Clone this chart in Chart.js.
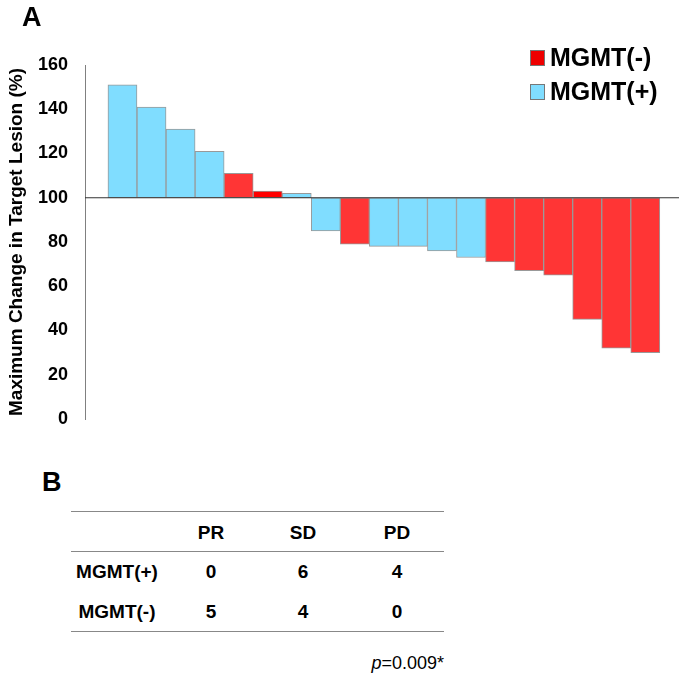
<!DOCTYPE html>
<html>
<head>
<meta charset="utf-8">
<script src="https://cdn.jsdelivr.net/npm/chart.js@4"></script>
<style>
  body { margin: 0; background: #fff; font-family: Arial, "Liberation Sans", sans-serif; }
  #wrap { position: relative; width: 685px; height: 680px; }
  #chartBox { position: absolute; left: 0; top: 0; width: 685px; height: 450px; }
  .lbl { position: absolute; font-weight: bold; color: #000; }
  .hl { position: absolute; left: 71px; width: 373px; height: 0; border-top: 1.5px solid #888; }
  .cell { position: absolute; font-weight: bold; font-size: 19px; transform: translate(-50%, -50%); white-space: nowrap; }
</style>
</head>
<body>
<div id="wrap">
  <div id="chartBox"><canvas id="waterfall" width="685" height="450"></canvas></div>
  <div class="lbl" style="left:22px;top:2px;font-size:27px;">A</div>
  <div class="lbl" style="left:42px;top:467px;font-size:27px;">B</div>
  <div class="hl" style="top:511px;"></div>
  <div class="hl" style="top:551px;"></div>
  <div class="hl" style="top:631px;"></div>
  <div id="tbl"></div>
  <div style="position:absolute;right:241px;top:653px;font-size:18px;"><i>p</i>=0.009*</div>
</div>
<script>
// 환자별 최대 변화량 (baseline 100)
var patients = [1,2,3,4,5,6,7,8,9,10,11,12,13,14,15,16,17,18,19];
var maxChange = [151,141,131,121,111,103,102,85,79,78,78,76,73,71,67,65,45,32,30];
var mgmt = ['+','+','+','+','-','-','+','+','-','+','+','+','+','-','-','-','-','-','-'];
var baseline = 100;
var yTicks = [0,20,40,60,80,100,120,140,160];

// 표 데이터
var respCols = ['PR','SD','PD'];
var mgmtPos = [0,6,4];
var mgmtNeg = [5,4,0];

function pick(sign) {
  var out = [];
  patients.forEach(function (p, i) {
    if (mgmt[i] === sign) out.push({ x: p, y: [baseline, maxChange[i]] });
  });
  return out;
}

var BLUE = '#80DDFF', RED = '#FF3535';

// 범례 (차트 영역 우상단)
var legendPlugin = {
  id: 'boxLegend',
  afterDraw: function (chart) {
    var c = chart.ctx;
    var items = [{ t: 'MGMT(-)', col: '#EE0000', y: 58 }, { t: 'MGMT(+)', col: BLUE, y: 92 }];
    c.save();
    items.forEach(function (it) {
      c.fillStyle = it.col;
      c.fillRect(530, it.y - 8, 15, 16);
      c.strokeStyle = '#777';
      c.lineWidth = 1;
      c.strokeRect(530.5, it.y - 7.5, 14, 15);
      c.fillStyle = '#000';
      c.font = 'bold 25px Arial, "Liberation Sans"';
      c.textBaseline = 'middle';
      c.fillText(it.t, 550, it.y + 1);
    });
    c.restore();
  }
};

// 100% 기준선
var baseLine = {
  id: 'baseLine',
  afterDatasetsDraw: function (chart) {
    var y = chart.scales.y.getPixelForValue(baseline);
    var a = chart.chartArea, c = chart.ctx;
    c.save();
    c.strokeStyle = '#333';
    c.lineWidth = 1.2;
    c.beginPath();
    c.moveTo(a.left, y);
    c.lineTo(a.right, y);
    c.stroke();
    c.restore();
  }
};

new Chart(document.getElementById('waterfall'), {
  type: 'bar',
  data: {
    datasets: [
      { label: 'MGMT(-)', data: pick('-'), backgroundColor: function (ctx) { return ctx.raw && ctx.raw.x === 6 ? '#FF0000' : RED; } },
      { label: 'MGMT(+)', data: pick('+'), backgroundColor: BLUE }
    ]
  },
  options: {
    responsive: false,
    animation: false,
    grouped: false,
    barPercentage: 1,
    categoryPercentage: 1,
    borderColor: '#999',
    borderWidth: 1,
    borderSkipped: false,
    layout: { padding: { top: 65, bottom: 31, right: 6, left: 0 } },
    plugins: { legend: { display: false }, tooltip: { enabled: false } },
    scales: {
      x: { type: 'linear', min: -0.29, max: 20.16, offset: false, display: false },
      y: {
        min: 0, max: 160,
        afterBuildTicks: function (ax) { ax.ticks = yTicks.map(function (v) { return { value: v }; }); },
        afterFit: function (ax) { ax.width = 85; },
        grid: { display: false, drawTicks: false },
        border: { display: true, color: '#808080', width: 1 },
        ticks: { autoSkip: false, color: '#000', padding: 17, font: { family: 'Arial, "Liberation Sans"', size: 18, weight: 'bold' } },
        title: { display: true, text: 'Maximum Change in Target Lesion (%)', color: '#000', padding: { top: 5, bottom: 0 },
          font: { family: 'Arial, "Liberation Sans"', size: 19, weight: 'bold' } }
      }
    }
  },
  plugins: [baseLine, legendPlugin]
});

// 표 렌더
var colX = [211, 303, 397];
var html = '';
respCols.forEach(function (h, i) { html += '<div class="cell" style="left:' + colX[i] + 'px;top:533px">' + h + '</div>'; });
html += '<div class="cell" style="left:117px;top:572px">MGMT(+)</div>';
html += '<div class="cell" style="left:117px;top:612px">MGMT(-)</div>';
mgmtPos.forEach(function (v, i) { html += '<div class="cell" style="left:' + colX[i] + 'px;top:572px">' + v + '</div>'; });
mgmtNeg.forEach(function (v, i) { html += '<div class="cell" style="left:' + colX[i] + 'px;top:612px">' + v + '</div>'; });
document.getElementById('tbl').innerHTML = html;
</script>
</body>
</html>
